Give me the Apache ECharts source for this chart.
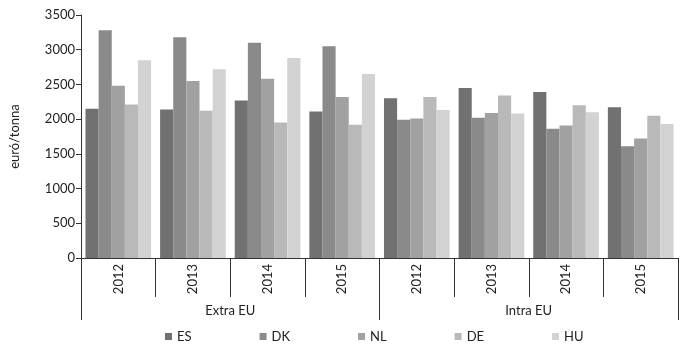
<!DOCTYPE html>
<html>
<head>
<meta charset="UTF-8">
<title>euró/tonna</title>
<script src="https://cdn.jsdelivr.net/npm/echarts@6/dist/echarts.min.js"></script>
<style>
    html, body { margin: 0; padding: 0; background: #fff; }
    #main { width: 680px; height: 352px; }
</style>
</head>
<body>
<div id="main"></div>
<script>
    // kategóriák
    var years = ['2012', '2013', '2014', '2015', '2012', '2013', '2014', '2015'];
    var groups = ['Extra EU', 'Intra EU'];
    var yTicks = [0, 3500, 500];

    // országok (euró/tonna)
    var es = [2150, 2140, 2270, 2110, 2300, 2450, 2390, 2170];
    var dk = [3280, 3180, 3100, 3050, 1990, 2020, 1860, 1610];
    var nl = [2480, 2550, 2580, 2320, 2010, 2090, 1910, 1720];
    var de = [2210, 2120, 1950, 1920, 2320, 2340, 2200, 2050];
    var hu = [2850, 2720, 2880, 2650, 2130, 2080, 2100, 1930];

    var names = ['ES', 'DK', 'NL', 'DE', 'HU'];
    var values = [es, dk, nl, de, hu];
    var colors = ['#717171', '#8a8a8a', '#a1a1a1', '#b9b9b9', '#d2d2d2'];

    var font = 'Lato, "Liberation Sans", sans-serif';
    var myChart = echarts.init(document.getElementById('main'));

    var series = [];
    for (var i = 0; i < names.length; i++) {
        series.push({
            name: names[i],
            type: 'bar',
            xAxisIndex: 0,
            data: values[i],
            barGap: '0%',
            barCategoryGap: '12%',
            itemStyle: { color: colors[i] }
        });
    }

    var option = {
        animation: false,
        textStyle: { fontFamily: font },
        color: colors,
        grid: { left: 81, right: 2, top: 15, bottom: 94 },
        legend: {
            data: names,
            bottom: 4,
            left: 160,
            itemWidth: 7,
            itemHeight: 7,
            itemGap: 68,
            icon: 'rect',
            textStyle: { fontFamily: font, fontSize: 13, color: '#222', width: 20 }
        },
        xAxis: [
            {
                type: 'category',
                data: years,
                position: 'bottom',
                axisLine: { lineStyle: { color: '#333', width: 1 } },
                axisTick: { show: true, length: 39, interval: 0, lineStyle: { color: '#333' } },
                axisLabel: { rotate: 90, margin: 6, interval: 0, fontSize: 13, color: '#222', fontFamily: font }
            },
            {
                type: 'category',
                data: groups,
                position: 'bottom',
                axisLine: { show: false },
                axisTick: { show: true, length: 62, interval: 0, lineStyle: { color: '#333' } },
                axisLabel: { margin: 46, interval: 0, fontSize: 13, color: '#222', fontFamily: font }
            }
        ],
        yAxis: {
            type: 'value',
            min: yTicks[0],
            max: yTicks[1],
            interval: yTicks[2],
            name: 'euró/tonna',
            nameLocation: 'middle',
            nameGap: 60,
            nameTextStyle: { fontSize: 13, color: '#222', fontFamily: font },
            axisLine: { show: true, lineStyle: { color: '#333' } },
            axisTick: { show: true, length: 5, lineStyle: { color: '#333' } },
            axisLabel: {
                fontSize: 13, color: '#222', margin: 6, fontFamily: font,
                formatter: function (v) { return String(v); }
            },
            splitLine: { show: false }
        },
        series: series
    };
    myChart.setOption(option);
</script>
</body>
</html>
